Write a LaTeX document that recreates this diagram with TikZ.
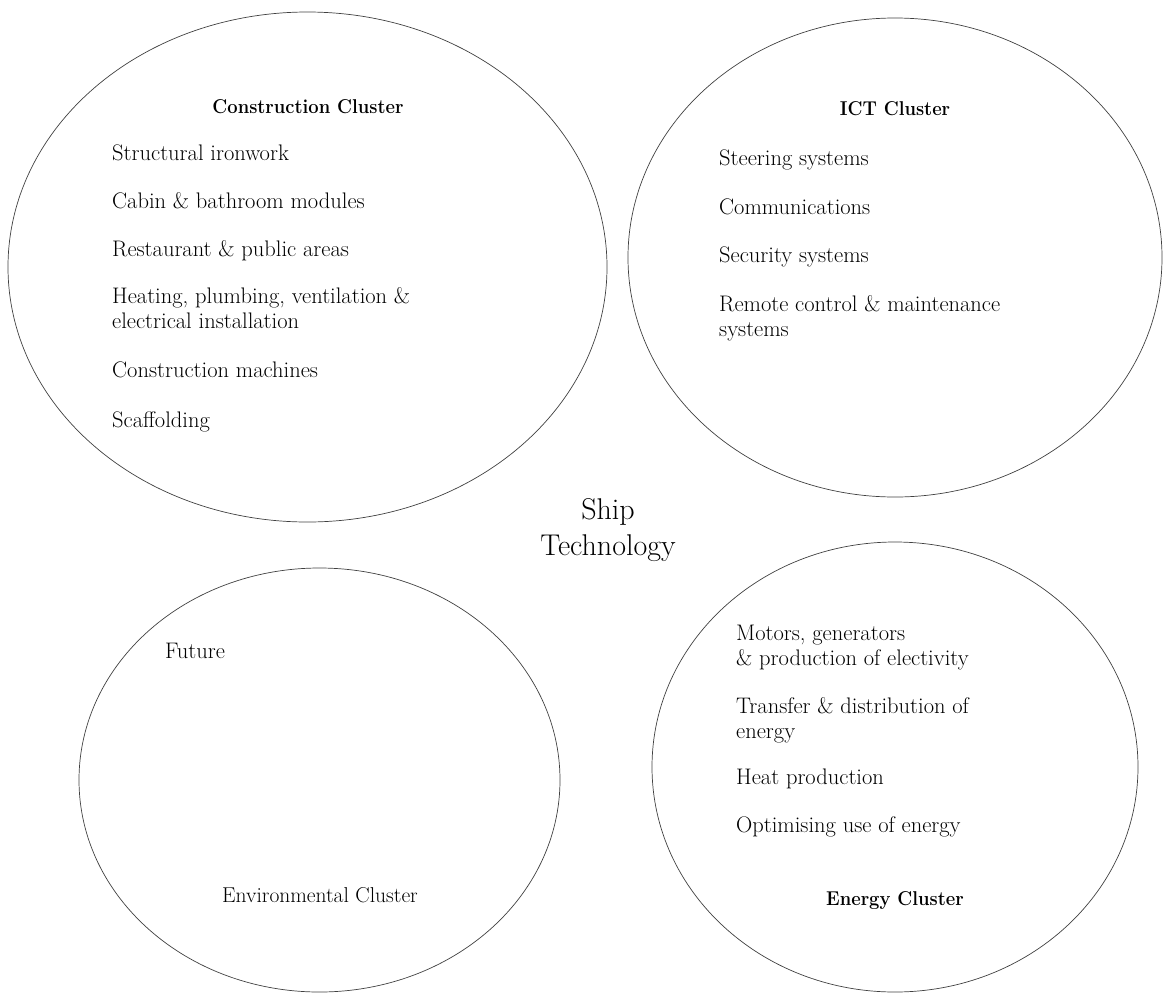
\documentclass[tikz,border=0pt]{standalone}
\usepackage{graphicx}
\usetikzlibrary{shapes.geometric}
\begin{document}
\begin{tikzpicture}[x=1pt,y=-1pt,
  cluster/.style={draw=black!75,line width=0.7pt,ellipse,inner sep=0pt},
  item/.style={anchor=base west,inner sep=0pt,align=left,font=\fontsize{22.5}{25}\selectfont},
  head/.style={anchor=base,inner sep=0pt,font=\fontsize{20}{25}\selectfont\bfseries},
  plainhead/.style={anchor=base,inner sep=0pt,font=\fontsize{21.5}{25}\selectfont},
  title/.style={anchor=base,inner sep=0pt,align=center,font=\fontsize{30}{36}\selectfont}]
\useasboundingbox (0,0) rectangle (1165,994);

% the four clusters
\node[cluster,minimum width=599pt,minimum height=510pt] (construction) at (307.5,267) {};
\node[cluster,minimum width=534pt,minimum height=479pt] (ict) at (895,257.5) {};
\node[cluster,minimum width=481pt,minimum height=424pt] (environment) at (319.5,780) {};
\node[cluster,minimum width=486pt,minimum height=450pt] (energy) at (895,767) {};

% centre title
\node[title] (ship) at (608,555) {Ship\\Technology};

% Construction cluster
\node[head] (conhead) at (308,113) {\scalebox{0.92}[1]{Construction Cluster}};
\node[item] (con1) at (112,160) {Structural ironwork};
\node[item] (con2) at (112,208) {Cabin \& bathroom modules};
\node[item] (con3) at (112,256) {Restaurant \& public areas};
\node[item] (con4) at (112,328) {Heating, plumbing, ventilation \&\\electrical installation};
\node[item] (con5) at (112,377) {Construction machines};
\node[item] (con6) at (112,427) {Scaffolding};

% ICT cluster
\node[head] (icthead) at (895,115) {\scalebox{0.92}[1]{ICT Cluster}};
\node[item] (ict1) at (719,165) {Steering systems};
\node[item] (ict2) at (719,214) {Communications};
\node[item] (ict3) at (719,262) {Security systems};
\node[item] (ict4) at (719,336) {Remote control \& maintenance\\systems};

% Environmental cluster
\node[item] (env1) at (165,658) {Future};
\node[plainhead] (envhead) at (320,902) {Environmental Cluster};

% Energy cluster
\node[item] (ene1) at (736,665) {Motors, generators\\\& production of electivity};
\node[item] (ene2) at (736,738) {Transfer \& distribution of\\energy};
\node[item] (ene3) at (736,784) {Heat production};
\node[item] (ene4) at (736,832) {Optimising use of energy};
\node[head] (enehead) at (895,905) {\scalebox{0.92}[1]{Energy Cluster}};
\end{tikzpicture}
\end{document}
